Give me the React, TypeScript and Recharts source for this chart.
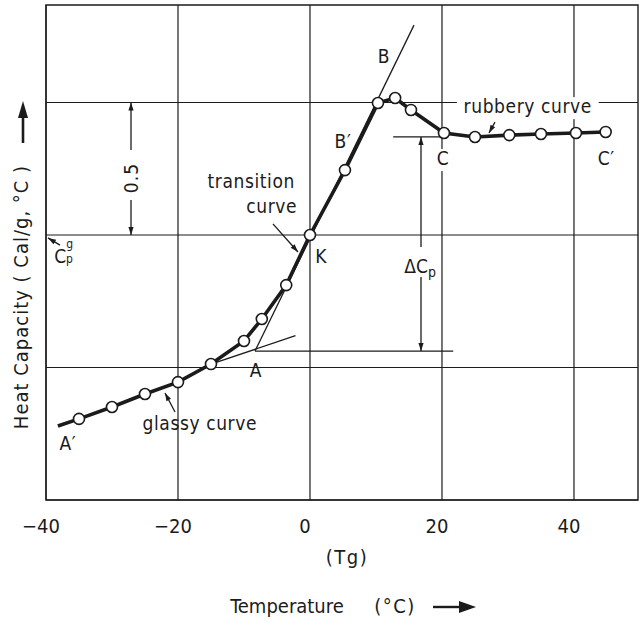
import React from 'react'
import {
  ComposedChart,
  Line,
  Scatter,
  XAxis,
  YAxis,
  CartesianGrid,
  ReferenceLine,
  ReferenceDot,
  ReferenceArea,
} from 'recharts'

const FONT = '"DejaVu Sans Condensed", "DejaVu Sans", sans-serif'
const INK = '#1b1b1b'

// measured points: temperature (°C) vs heat capacity (cal/g °C, relative)
const temps = [-35, -30, -25, -20, -15, -10, -7.3, -3.6, 0, 5.3, 10.3, 12.9, 15.3, 20.3, 25, 30.2, 35, 40.3, 44.8]
const heatCap = [0.306, 0.351, 0.4, 0.445, 0.513, 0.6, 0.683, 0.811, 1.0, 1.245, 1.498, 1.517, 1.472, 1.385, 1.37, 1.377, 1.381, 1.385, 1.389]
const curveStart = { t: -38.2, cp: 0.279 }

const xTicks = [-40, -20, 0, 20, 40]
const xTickLabels = ['−40', '−20', '0', '20', '40']
const yTicks = [0, 0.5, 1, 1.5]
const X_MAX = 49.7
const Y_MAX = 1.868

// construction lines (tangents etc.)
const tangents = [
  { from: [-8.33, 0.562], to: [15.76, 1.792] },
  { from: [-15, 0.513], to: [-2.2, 0.62] },
  { from: [-8.33, 0.562], to: [21.7, 0.562] },
  { from: [12.6, 1.37], to: [20.15, 1.37] },
]

// arrows: head at 'to'
const arrows = [
  { from: [16.82, 0.955], to: [16.82, 1.37] },
  { from: [16.82, 0.842], to: [16.82, 0.562] },
  { from: [-27.12, 1.321], to: [-27.12, 1.5] },
  { from: [-27.12, 1.132], to: [-27.12, 1.0] },
  { from: [-5.61, 1.042], to: [-1.82, 0.936] },
  { from: [-20.45, 0.332], to: [-21.97, 0.404] },
  { from: [28.03, 1.426], to: [27.12, 1.385] },
  { from: [-37.88, 0.962], to: [-39.7, 0.989] },
]

const notes = [
  { text: 'B', t: 11.2, cp: 1.649 },
  { text: 'B′', t: 5.0, cp: 1.328 },
  { text: 'transition', t: -8.9, cp: 1.177 },
  { text: 'curve', t: -5.8, cp: 1.083 },
  { text: 'K', t: 1.7, cp: 0.894 },
  { text: 'rubbery curve', t: 33.0, cp: 1.46, boxed: true },
  { text: 'C', t: 20.15, cp: 1.264, boxed: true },
  { text: 'C′', t: 44.9, cp: 1.264 },
  { text: 'A', t: -8.2, cp: 0.464 },
  { text: 'glassy curve', t: -16.7, cp: 0.264 },
  { text: 'A′', t: -36.7, cp: 0.189 },
]

const points = temps.map((t, i) => ({ t, cp: heatCap[i] }))
const curve = [curveStart, ...points]

const head = (x1: number, y1: number, x2: number, y2: number, len = 8, half = 2.6) => {
  const dx = x2 - x1
  const dy = y2 - y1
  const d = Math.hypot(dx, dy) || 1
  const ux = dx / d
  const uy = dy / d
  const bx = x2 - ux * len
  const by = y2 - uy * len
  return `${x2},${y2} ${bx - uy * half},${by + ux * half} ${bx + uy * half},${by - ux * half}`
}

const segShape = (withHead: boolean) => (p: any) => {
  const { x1, y1, x2, y2 } = p
  return (
    <g>
      <line x1={x1} y1={y1} x2={x2} y2={y2} stroke={INK} strokeWidth={1.3} />
      {withHead && <polygon points={head(x1, y1, x2, y2)} fill={INK} />}
    </g>
  )
}

const noteShape = (n: { text: string; boxed?: boolean }) => (p: any) => {
  const { cx, cy } = p
  const w = n.text.length * 10.6
  return (
    <g>
      {n.boxed && <rect x={cx - w / 2 - 2} y={cy - 16} width={w + 4} height={22} fill="#fff" />}
      <text x={cx} y={cy} textAnchor="middle" fontSize={19} fontFamily={FONT} fill={INK} letterSpacing={0.6}>
        {n.text}
      </text>
    </g>
  )
}

const deltaShape = (p: any) => (
  <text x={p.cx - 2} y={p.cy} textAnchor="middle" fontSize={19} fontFamily={FONT} fill={INK}>
    ΔC<tspan fontSize={14} dy={4}>p</tspan>
  </text>
)

const halfShape = (p: any) => (
  <text
    x={p.cx + 7}
    y={p.cy}
    transform={`rotate(-90 ${p.cx + 7} ${p.cy})`}
    textAnchor="middle"
    fontSize={19}
    fontFamily={FONT}
    fill={INK}
    letterSpacing={1}
  >
    0.5
  </text>
)

const cpgShape = (p: any) => (
  <text x={p.cx - 5} y={p.cy} fontSize={19} fontFamily={FONT} fill={INK}>
    C<tspan fontSize={12} dy={-15}>g</tspan>
    <tspan fontSize={12} dx={-7} dy={15}>p</tspan>
  </text>
)

const XTick = (p: any) => {
  const { x, payload } = p
  const i = xTicks.indexOf(payload.value)
  return (
    <text x={x - 5} y={533} textAnchor="middle" fontSize={20} fontFamily={FONT} fill={INK}>
      {xTickLabels[i]}
    </text>
  )
}

const XTitle = () => (
  <g fontFamily={FONT} fill={INK} fontSize={20}>
    <text x={347} y={564} textAnchor="middle" letterSpacing={1.5}>(Tg)</text>
    <text x={287} y={613} textAnchor="middle">Temperature</text>
    <text x={395} y={613} textAnchor="middle" letterSpacing={1.5}>(°C)</text>
    <line x1={433} y1={607} x2={462} y2={607} stroke={INK} strokeWidth={2.4} />
    <polygon points="476,607 459,601 459,613" fill={INK} />
  </g>
)

const YTitle = () => (
  <g fontFamily={FONT} fill={INK}>
    <text x={28} y={297} transform="rotate(-90 28 297)" textAnchor="middle" fontSize={20} letterSpacing={1}>
      Heat Capacity ( Cal/g, °C )
    </text>
    <line x1={23} y1={143} x2={23} y2={114} stroke={INK} strokeWidth={2.6} />
    <polygon points="23,101 18,118 28,118" fill={INK} />
  </g>
)

const Marker = (p: any) => (
  <circle cx={p.cx} cy={p.cy} r={5.5} fill="#fff" stroke={INK} strokeWidth={1.6} />
)

export default function App() {
  return (
    <div style={{ position: 'absolute', left: 0, top: 0, background: '#fff' }}>
      <ComposedChart
        width={639}
        height={622}
        margin={{ top: 5, right: 1, left: 0, bottom: 92 }}
        style={{ fontFamily: FONT }}
      >
        <CartesianGrid stroke={INK} strokeWidth={1.2} fill="none" horizontal={false} verticalValues={xTicks} />
        <XAxis
          type="number"
          dataKey="t"
          domain={[-40, X_MAX]}
          allowDataOverflow
          ticks={xTicks}
          tick={<XTick />}
          tickLine={false}
          axisLine={false}
          tickSize={0}
          height={30}
          label={<XTitle />}
        />
        <YAxis
          type="number"
          dataKey="cp"
          domain={[0, Y_MAX]}
          allowDataOverflow
          ticks={yTicks}
          tick={false}
          tickLine={false}
          axisLine={false}
          width={46}
          label={<YTitle />}
        />
        {yTicks.map((v) => (
          <ReferenceLine key={`hy-${v}`} y={v} stroke={INK} strokeWidth={1.2} />
        ))}
        <ReferenceArea x1={-40} x2={X_MAX} y1={0} y2={Y_MAX} fill="none" stroke={INK} strokeWidth={1.4} />
        {tangents.map((s, i) => (
          <ReferenceLine
            key={`tg-${i}`}
            segment={[{ x: s.from[0], y: s.from[1] }, { x: s.to[0], y: s.to[1] }]}
            shape={segShape(false)}
          />
        ))}
        {arrows.map((s, i) => (
          <ReferenceLine
            key={`ar-${i}`}
            segment={[{ x: s.from[0], y: s.from[1] }, { x: s.to[0], y: s.to[1] }]}
            shape={segShape(true)}
          />
        ))}
        {notes.map((n) => (
          <ReferenceDot key={n.text} x={n.t} y={n.cp} shape={noteShape(n)} />
        ))}
        <ReferenceDot x={17.0} y={0.857} shape={deltaShape} />
        <ReferenceDot x={-27.12} y={1.215} shape={halfShape} />
        <ReferenceDot x={-38.0} y={0.894} shape={cpgShape} />
        <Line
          data={curve}
          dataKey="cp"
          type="linear"
          stroke={INK}
          strokeWidth={3.6}
          dot={false}
          activeDot={false}
          isAnimationActive={false}
        />
        <Scatter data={points} dataKey="cp" shape={<Marker />} isAnimationActive={false} />
      </ComposedChart>
    </div>
  )
}
